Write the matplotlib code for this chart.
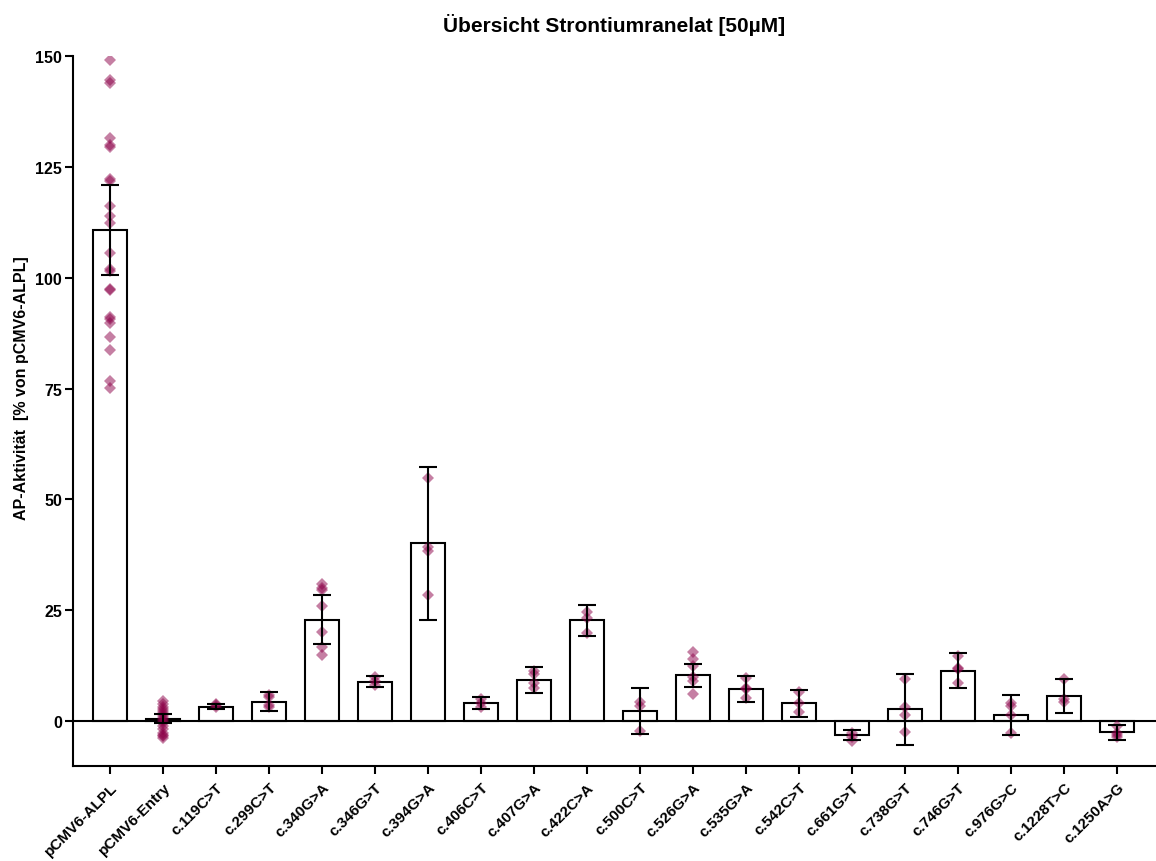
import matplotlib as mpl
mpl.use('Agg')
import numpy as np
import matplotlib.pyplot as plt

plt.rcParams['font.family'] = ['Liberation Sans', 'DejaVu Sans']
plt.rcParams['font.weight'] = 'bold'

# constructs / variants on the x axis
labels = ["pCMV6-ALPL", "pCMV6-Entry", "c.119C>T", "c.299C>T", "c.340G>A", "c.346G>T",
          "c.394G>A", "c.406C>T", "c.407G>A", "c.422C>A", "c.500C>T", "c.526G>A",
          "c.535G>A", "c.542C>T", "c.661G>T", "c.738G>T", "c.746G>T", "c.976G>C",
          "c.1228T>C", "c.1250A>G"]

# mean AP activity (% of pCMV6-ALPL) and error bar half-widths
means = [110.8, 0.6, 3.3, 4.4, 22.9, 8.9, 40.1, 4.1, 9.3, 22.8,
         2.3, 10.4, 7.3, 4.0, -3.1, 2.7, 11.4, 1.4, 5.7, -2.5]
errors = [10.1, 1.1, 0.6, 2.2, 5.6, 1.2, 17.3, 1.4, 2.9, 3.5,
          5.1, 2.6, 3.0, 3.0, 1.1, 8.0, 3.9, 4.6, 3.9, 1.7]

# single measurements per construct
replicates = [
    [149.0, 144.6, 144.0, 131.6, 130.0, 129.4, 122.3, 121.8, 116.2, 113.9, 112.4, 105.5,
     102.0, 101.6, 97.4, 97.2, 91.1, 90.6, 89.7, 86.6, 83.8, 76.7, 75.1],
    [4.6, 3.9, 3.2, 2.7, 2.2, 1.8, 1.3, 0.9, 0.5, 0.0, -0.4, -1.0, -1.8, -2.6, -3.0, -3.4, -3.8],
    [3.9, 3.6, 3.3],
    [5.9, 5.4, 3.6, 3.3],
    [30.9, 30.0, 29.5, 26.0, 20.2, 16.8, 15.0],
    [9.9, 9.1, 8.1],
    [54.8, 39.3, 38.4, 28.5],
    [5.1, 4.2, 3.3],
    [11.3, 10.6, 8.7, 7.5],
    [24.7, 23.2, 19.8],
    [4.4, 3.5, -2.2],
    [15.6, 14.0, 12.5, 9.9, 9.1, 6.1],
    [9.8, 7.6, 7.2, 5.3],
    [6.6, 4.2, 2.1],
    [-2.7, -3.5, -4.4],
    [9.6, 3.2, 1.4, -2.5],
    [14.7, 12.0, 11.7, 8.6],
    [4.1, 3.5, 1.4, -2.6],
    [9.6, 5.0, 4.4],
    [-1.0, -2.6, -3.1, -3.6],
]

yticks = [0, 25, 50, 75, 100, 125, 150]

fig = plt.figure(figsize=(11.56, 8.62), dpi=100)
ax = fig.add_axes([73/1156, 95/862, 1083/1156, (767-57)/862])

x = np.arange(len(labels))
lw = 1.5
fs = 11.5

ax.bar(x, means, width=0.64, color='white', edgecolor='black', linewidth=lw, zorder=2)
ax.axhline(0, color='black', linewidth=lw, zorder=3)

for i, vals in enumerate(replicates):
    ax.plot(np.full(len(vals), x[i]), vals, linestyle='none', marker='D', markersize=6.3,
            color='#8C0048', markeredgewidth=0, alpha=0.5, zorder=4)

ax.errorbar(x, means, yerr=errors, fmt='none', ecolor='black', elinewidth=lw,
            capsize=6.5, capthick=lw, zorder=5)

ax.set_xlim(-0.70, 19.74)
ax.set_ylim(-10.1, 150)
ax.set_yticks(yticks)
ax.set_xticks(x)
ax.set_xticklabels(labels, rotation=45, ha='right', rotation_mode='anchor', fontsize=11)
for t in ax.get_yticklabels():
    t.set_fontsize(fs)

for side in ['top', 'right']:
    ax.spines[side].set_visible(False)
for side in ['left', 'bottom']:
    ax.spines[side].set_linewidth(lw)
ax.tick_params(axis='both', width=lw, length=6, direction='out')
ax.tick_params(axis='x', pad=4)
ax.tick_params(axis='y', pad=2)

ax.set_ylabel("AP-Aktivität  [% von pCMV6-ALPL]", fontsize=fs, fontweight='bold')
ax.yaxis.set_label_coords(-0.041, 0.533)
ax.set_title("Übersicht Strontiumranelat [50µM]", fontsize=15, fontweight='bold', pad=18)

fig.savefig('out.png', dpi=100)
plt.close()
